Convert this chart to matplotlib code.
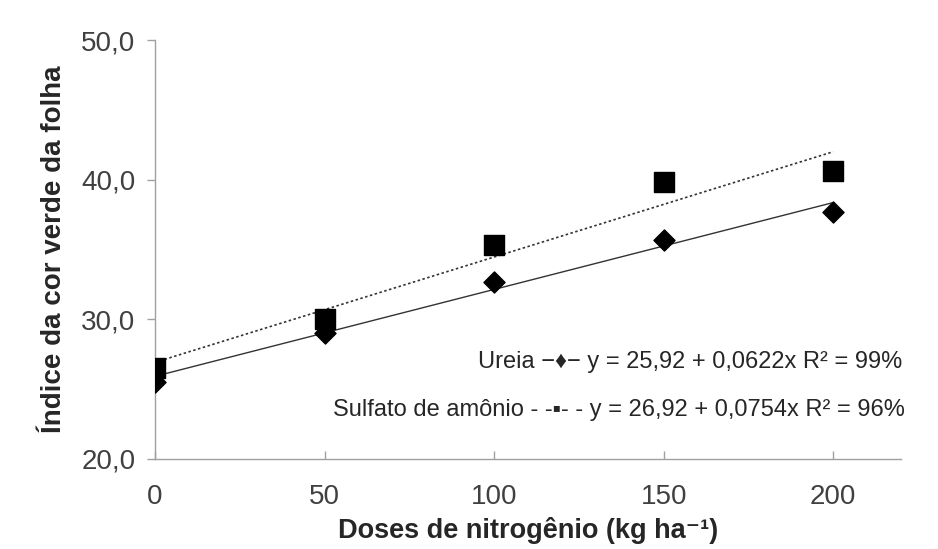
import matplotlib
matplotlib.use("Agg")
import matplotlib.pyplot as plt
import numpy as np

plt.rcParams['font.family'] = ['Liberation Sans', 'DejaVu Sans']

doses = [0, 50, 100, 150, 200]
ureia = [25.5, 29.0, 32.7, 35.7, 37.7]
sulfato = [26.5, 30.0, 35.3, 39.8, 40.6]

ureia_coef = (25.92, 0.0622)
sulfato_coef = (26.92, 0.0754)

xticks = [0, 50, 100, 150, 200]
yticks = [20, 30, 40, 50]
ytick_labels = ["20,0", "30,0", "40,0", "50,0"]

fig = plt.figure(figsize=(9.38, 5.49), dpi=100)
ax = fig.add_axes([155 / 938, 1 - 459 / 549, (901 - 155) / 938, (459 - 40) / 549])

xf = np.array([0, 200])
ax.plot(xf, ureia_coef[0] + ureia_coef[1] * xf, color='#333333', lw=1.0, zorder=2)
ax.plot(xf, sulfato_coef[0] + sulfato_coef[1] * xf, color='#333333', lw=1.2,
        linestyle=(0, (1.5, 1.5)), zorder=2)

ax.scatter(doses, ureia, marker='D', s=115, color='black', zorder=3)
ax.scatter(doses, sulfato, marker='s', s=210, color='black', zorder=4)

ax.set_xlim(0, 220)
ax.set_ylim(20, 50)
ax.set_xticks(xticks)
ax.set_yticks(yticks)
ax.set_yticklabels(ytick_labels)

for s in ['top', 'right']:
    ax.spines[s].set_visible(False)
for s in ['left', 'bottom']:
    ax.spines[s].set_color('#a0a0a0')
    ax.spines[s].set_linewidth(1.0)
ax.tick_params(axis='both', colors='#a0a0a0', labelcolor='#404040',
               labelsize=20, length=6, width=1.0)
ax.tick_params(axis='y', direction='out', pad=8)
ax.tick_params(axis='x', direction='in', pad=18)

ax.set_xlabel("Doses de nitrogênio (kg ha⁻¹)", fontsize=19.5, fontweight='bold',
              color='#262626', labelpad=5)
ax.set_ylabel("Índice da cor verde da folha", fontsize=20, fontweight='bold',
              color='#262626', labelpad=10)

ax.text(1.002, (459 - 362) / 419, "Ureia −♦− y = 25,92 + 0,0622x R² = 99%",
        transform=ax.transAxes, ha='right', va='center', fontsize=17, color='#262626')
ax.text(1.005, (459 - 410) / 419, "Sulfato de amônio - -▪- - y = 26,92 + 0,0754x R² = 96%",
        transform=ax.transAxes, ha='right', va='center', fontsize=17, color='#262626')

fig.savefig("out.png", dpi=100)
